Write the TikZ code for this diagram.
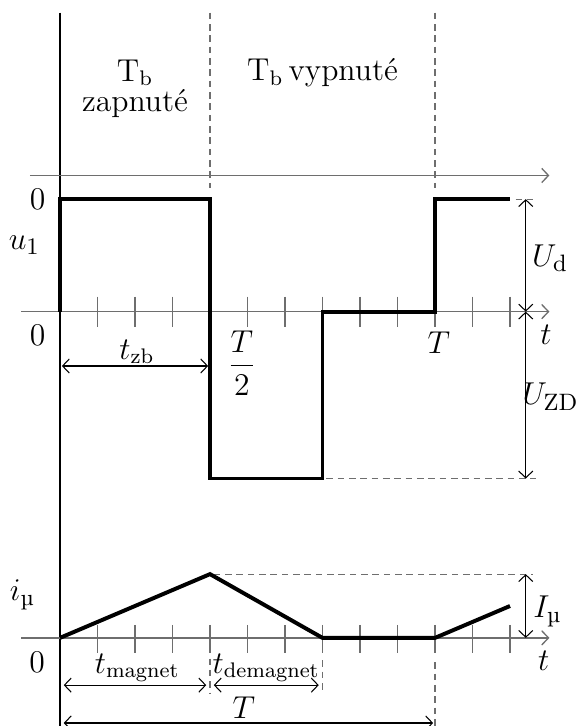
\documentclass[tikz,border=0pt]{standalone}
\usepackage{amsmath}
\usepackage{xcolor}
\usepackage{tikz}
\usetikzlibrary{arrows.meta}
\definecolor{axisgray}{HTML}{6E6E6E}
\newcommand{\umu}{\text{\textmu}}

\begin{document}
\begin{tikzpicture}[x=0.5cm, y=0.5cm,
    >={Straight Barb[length=0.9mm, width=1.9mm]},
    axis/.style={->, axisgray, line width=0.5pt},
    tickmark/.style={axisgray, line width=0.5pt},
    signal/.style={line width=1.5pt, line join=miter},
    guide/.style={axisgray, line width=0.45pt, dash pattern=on 2.5pt off 1.8pt},
    dim/.style={<->, line width=0.4pt},
    lbl/.style={font=\fontsize{12.5}{14}\selectfont, inner sep=1pt},
    txtlbl/.style={font=\fontsize{12}{11.34}\selectfont, inner sep=0pt},
    sublbl/.style={font=\fontsize{11.5}{13}\selectfont, inner sep=1pt}]
    \useasboundingbox (-1.6,-11.05) rectangle (13.76,8.31);
    % axes
    \draw[black, line width=0.4pt] (0,7.97) -- (0,-11.05);
    \draw[axis] (-0.8,3.63) -- (13.05,3.63);
    \draw[axis] (-1.03,0) -- (13.05,0);
    \draw[axis] (-1.03,-8.7) -- (13.05,-8.7);
    \foreach \k in {1,...,12} {
        \draw[tickmark] (\k,0.4) -- (\k,-0.4);
        \draw[tickmark] (\k,-8.35) -- (\k,-9.1);
    }
    % guide lines
    \draw[guide] (4,7.97) -- (4,3.3);
    \draw[guide] (10,7.97) -- (10,3.3);
    \draw[guide] (12.15,3) -- (12.6,3);
    \draw[guide] (7.1,-4.45) -- (12.7,-4.45);
    \draw[guide] (4.1,-7) -- (12.6,-7);
    \draw[guide] (4,-9.25) -- (4,-10.2);
    \draw[guide] (7,-9.3) -- (7,-10.2);
    \draw[guide] (10,-9.35) -- (10,-11.05);
    % waveforms
    \draw[signal] (0,0) -- (0,3) -- (4,3) -- (4,-4.45) -- (7,-4.45) -- (7,0) -- (10,0) -- (10,3) -- (12,3);
    \draw[signal] (0,-8.7) -- (4,-7) -- (7,-8.7) -- (10,-8.7) -- (12,-7.85);
    % dimension end points
    \coordinate (udTop) at (12.42,3);
    \coordinate (udBot) at (12.42,0);
    \coordinate (uzdBot) at (12.42,-4.45);
    \coordinate (imuTop) at (12.42,-7);
    \coordinate (imuBot) at (12.42,-8.7);
    \coordinate (tzbL) at (0.05,-1.45);
    \coordinate (tzbR) at (3.95,-1.45);
    \coordinate (tmagL) at (0.1,-9.96);
    \coordinate (tmagR) at (3.9,-9.96);
    \coordinate (tdemL) at (4.1,-9.96);
    \coordinate (tdemR) at (6.9,-9.96);
    \coordinate (perL) at (0.1,-10.97);
    \coordinate (perR) at (9.95,-10.97);
    \draw[dim] (udTop) -- (udBot);
    \draw[dim] (udBot) -- (uzdBot);
    \draw[dim] (imuTop) -- (imuBot);
    \draw[dim] (tzbL) -- (tzbR);
    \draw[dim] (tmagL) -- (tmagR);
    \draw[dim] (tdemL) -- (tdemR);
    \draw[dim] (perL) -- (perR);
    % labels
    \node[txtlbl, align=center, anchor=north] (tbOn) at (2,6.73) {T$_\mathrm{b}$\\zapnuté};
    \node[txtlbl, anchor=base] (tbOff) at (7,6.15) {T$_\mathrm{b}$\,vypnuté};
    \node[lbl] (zeroTop) at (-0.6,3) {$0$};
    \node[lbl] (uOne) at (-0.95,1.78) {$u_1$};
    \node[lbl] (zeroMid) at (-0.6,-0.62) {$0$};
    \node[sublbl] (tzb) at (2.05,-1.07) {$t_\mathrm{zb}$};
    \node[lbl] (halfT) at (4.85,-1.37) {$\dfrac{T}{2}$};
    \node[lbl] (perTop) at (10.1,-0.84) {$T$};
    \node[lbl] (tTop) at (12.96,-0.62) {$t$};
    \node[lbl] (Ud) at (13.07,1.43) {$U_\mathrm{d}$};
    \node[lbl] (Uzd) at (13.08,-2.27) {$U_\mathrm{ZD}$};
    \node[lbl] (imu) at (-1.0,-7.55) {$i_\umu$};
    \node[lbl] (zeroBot) at (-0.61,-9.34) {$0$};
    \node[sublbl] (tmag) at (2.06,-9.5) {$t_\mathrm{magnet}$};
    \node[sublbl] (tdem) at (5.5,-9.5) {$t_\mathrm{demagnet}$};
    \node[lbl] (perBot) at (4.9,-10.55) {$T$};
    \node[lbl] (Imu) at (13.0,-8.0) {$I_\umu$};
    \node[lbl] (tBot) at (12.9,-9.3) {$t$};
\end{tikzpicture}
\end{document}
